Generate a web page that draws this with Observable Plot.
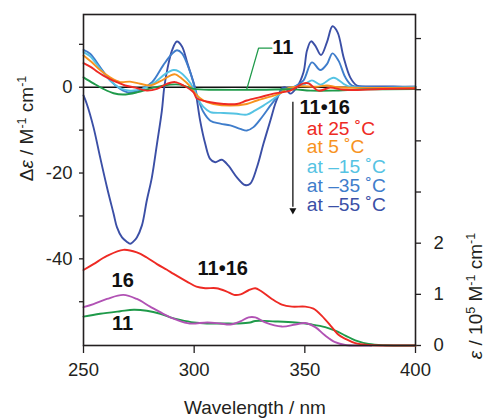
<!DOCTYPE html>
<html><head><meta charset="utf-8">
<script src="https://cdn.jsdelivr.net/npm/d3@7"></script>
<script src="https://cdn.jsdelivr.net/npm/@observablehq/plot@0.6"></script>
<style>body{margin:0;background:#fff}</style>
</head><body><div id="chart"></div>
<script>
// ---- CD spectra (Δε, left axis) : [wavelength nm, Δε] ----
const cdM55 = [[250,-1.9],[251.5,-3.9],[254.5,-9.3],[257.5,-16.3],[260.6,-23.3],[263.6,-29.5],[265.1,-32.6],[267.4,-35.0],[269.5,-36.0],[271.1,-36.5],[272.5,-36.0],[274.1,-35],[276.4,-32.2],[278.6,-26.4],[280.9,-21.0],[283.2,-13.2],[285.4,-5.5],[286.5,0],[288,4.5],[290,8.6],[292.2,10.65],[294.5,9.5],[297,5.5],[299,2.3],[300.3,0],[302.7,-7.8],[305,-13.2],[307.2,-16.7],[309.5,-17.5],[312.5,-16.9],[315.5,-18.3],[319.3,-21],[323,-22.8],[325.3,-22.5],[328.4,-18.6],[331.3,-13.2],[334.4,-7.8],[336.6,-3.9],[338.1,-1.9],[339.5,-0.3],[341,0],[343.4,-1.5],[346.4,0],[349.4,3.5],[351,8.6],[352.8,10.7],[354.7,9.7],[357.3,7.5],[360,10.5],[362.5,14.2],[364.8,12.8],[367.5,7.0],[370.5,2.3],[373.5,0.4],[378,0.2],[390,0.2],[400,0.1]];
const cdM35 = [[250,8.7],[253,7.8],[257.5,4.7],[262,1.6],[266.6,-0.4],[270.3,-1.2],[275.6,-0.6],[281,1.2],[286,5.1],[290,7.8],[292.2,8.6],[294.5,7.9],[298.2,3.5],[300.5,-0.5],[302,-3],[304.2,-5.8],[307.3,-7.8],[311.8,-8.5],[316.3,-8.9],[320.8,-9.7],[323.8,-10.1],[326.8,-9.3],[330.6,-7],[334.4,-4.3],[337.4,-2.3],[340,-0.5],[343,-0.3],[346,0.3],[349.4,1.6],[353.2,5.8],[357,4.0],[360,5.4],[362.5,7.9],[365.2,6.2],[368.3,2.3],[371.3,0.4],[376,0.1],[400,0.1]];
const cdM15 = [[250,8.2],[253,7.2],[257.5,4.3],[262,1.6],[266.6,-0.2],[271,-0.8],[276.4,-0.4],[281.6,0.9],[287,3.1],[290.7,4.0],[293,3.7],[296.7,2.0],[300,-0.5],[301.5,-2.5],[304.2,-4.6],[307.3,-5.8],[313.3,-6.0],[319.3,-6.2],[323.8,-6.4],[327.6,-5.4],[331.3,-4.3],[335.9,-2.7],[338.1,-1.9],[341,-0.5],[345,0],[350.2,0.8],[353.2,1.6],[357,0.6],[363,2.2],[367.5,0.8],[370.5,0.1],[400,0]];
const cdP5 = [[250,7.4],[253.8,5.8],[257.5,4.0],[262,2.3],[266.6,1.2],[271,1.3],[275.6,0.8],[280.1,0.4],[284.7,1.4],[289.2,2.7],[291.4,3.0],[294.5,2.0],[298.2,0.2],[300.5,-1.5],[304.2,-3.1],[308.7,-3.9],[316.3,-4.3],[323.8,-3.9],[328.4,-3.1],[334.4,-2.2],[338.9,-1.4],[342,-0.3],[348,0.2],[355,0.1],[360,0.4],[365,0],[400,-0.1]];
const cdP25 = [[250,5.6],[253,4.8],[256,3.7],[259,2.7],[262,1.9],[265,1.2],[268.8,0.4],[273.4,-0.1],[278.6,-0.8],[283.2,-0.4],[287.7,0.8],[291.4,1.2],[295.2,0.4],[299.7,-1.2],[301.2,-2.6],[307.3,-3.5],[313.3,-3.9],[319.3,-3.9],[323.8,-3.1],[329.8,-2.3],[335.9,-1.5],[343.4,-0.8],[349.4,0.9],[351.7,0.9],[356.2,-0.8],[361.5,-0.1],[367.5,-0.6],[385,-0.4],[400,-0.3]];
const cd11 = [[250,2.3],[254.5,0.9],[259,-0.4],[263.6,-1.4],[268,-1.7],[274.1,-1.2],[281.6,-0.1],[289.2,0.6],[293.7,0.6],[299.7,-0.4],[310,-0.6],[330,-0.6],[345,-0.5],[352.5,-0.8],[362.5,-0.8],[377,-0.5],[400,-0.4]];

// ---- UV spectra (ε / 10^5, right axis) : [wavelength nm, ε] ----
const uv1116 = [[250,1.475],[254.5,1.59],[260.6,1.75],[268,1.87],[274.1,1.82],[278.6,1.72],[283.2,1.59],[287.7,1.48],[290.7,1.40],[296.7,1.25],[301,1.15],[305,1.12],[310,1.12],[314.5,1.06],[318,0.99],[321,1.0],[324.6,1.08],[327.6,1.12],[330,1.07],[335.1,0.91],[339.6,0.80],[344.2,0.76],[350.2,0.76],[353.9,0.72],[357.7,0.58],[362.2,0.36],[365.2,0.21],[368.3,0.13],[372.8,0.045],[378.8,0.01],[390,0],[400,0]];
const uv16 = [[250,0.75],[254.5,0.81],[260.6,0.91],[268,0.99],[274.1,0.91],[280.1,0.76],[286,0.62],[292.2,0.50],[298,0.43],[306,0.45],[311.8,0.43],[316.3,0.41],[320.8,0.47],[324.6,0.55],[327.6,0.55],[332.1,0.45],[339.6,0.37],[345.7,0.41],[350.2,0.44],[354.7,0.36],[359.2,0.195],[363.7,0.065],[368.3,0.01],[375,0],[380,0]];
const uv11 = [[250,0.565],[257.5,0.62],[266.6,0.67],[272.7,0.70],[278.6,0.68],[284.7,0.62],[289.2,0.55],[293.7,0.50],[299.7,0.45],[305.8,0.43],[313.3,0.43],[320,0.43],[325.3,0.45],[327.6,0.48],[336.6,0.47],[345.7,0.45],[353.2,0.41],[359.2,0.36],[363.7,0.29],[368.3,0.195],[372.8,0.10],[378.8,0.03],[386.3,0.005],[400,0]];

// ---- axes ----
const xTicks = [250, 300, 350, 400];
const leftTicks = [10, 0, -10, -20, -30, -40, -50];
const leftLabels = [0, -20, -40];
const rightTicks = [0, 1, 2, 3, 4, 5, 6];
const rightLabels = [0, 1, 2];
const yDomain = [-60.2, 16.95];
const rightTop = 6.47;

// ---- annotations ----
const legendText = ["at 25 ˚C", "at 5 ˚C", "at –15 ˚C", "at –35 ˚C", "at –55 ˚C"];
const legendColor = ["#ee2a24", "#f7931e", "#55c3e3", "#3f7dcb", "#3b4fa6"];
const legendY = [-9.7, -14.0, -18.5, -22.9, -27.3];
const legendX = 350.9;
const labelsStart = [
  {t: "11", x: 335.3, y: 9.14},
  {t: "11•16", x: 347.6, y: -4.66}
];
const labelsMiddle = [
  {t: "16", x: 267.7, y: -45.0},
  {t: "11•16", x: 312.9, y: -42.3},
  {t: "11", x: 267.7, y: -55.2}
];
const leader = [[335.1, 9.1], [329.1, 9.1], [323.8, -0.4]];
const arrowX = 344.6, arrowY1 = -3.5, arrowY2 = -28.0, arrowTipY = -28.7;

const k = (yDomain[1] - yDomain[0]) / rightTop;
const uv = e => yDomain[0] + e * k;
const toUV = arr => arr.map(([w, e]) => [w, uv(e)]);

const C = {red: "#ee2a24", orange: "#f7931e", lblue: "#55c3e3", mblue: "#3f7dcb", dblue: "#3b4fa6", green: "#1f9a4a", purple: "#b152b4"};
const line = (data, stroke) => Plot.line(data, {x: d => d[0], y: d => d[1], stroke, strokeWidth: 1.9, curve: "catmull-rom"});
const FONT = "'Liberation Sans', Arial, Helvetica, sans-serif";

const plot = Plot.plot({
  width: 487, height: 418,
  marginLeft: 83, marginRight: 72, marginTop: 14, marginBottom: 73,
  x: {domain: [250, 400]},
  y: {domain: yDomain},
  style: {fontFamily: FONT, fontSize: "18.5px", color: "#231f20", background: "#fff"},
  marks: [
    Plot.axisX({ticks: xTicks, tickSize: 8, tickPadding: 9, label: null, fontSize: 18.5, strokeWidth: 1.3}),
    Plot.axisY({ticks: leftTicks, tickFormat: d => leftLabels.includes(d) ? String(d) : "", tickSize: 4, tickPadding: 7, label: null, fontSize: 18.5, strokeWidth: 1.3}),
    Plot.axisY({anchor: "right", ticks: rightTicks.map(uv), tickFormat: d => { const v = Math.round((d - yDomain[0]) / k); return rightLabels.includes(v) ? String(v) : ""; }, tickSize: 5, tickPadding: 13, label: null, fontSize: 18.5, strokeWidth: 1.3}),
    Plot.ruleY([0], {stroke: "#111", strokeWidth: 1.6}),
    line(cdM55, C.dblue),
    line(cdM35, C.mblue),
    line(cdM15, C.lblue),
    line(cdP5, C.orange),
    line(cd11, C.green),
    line(cdP25, C.red),
    line(toUV(uv11), C.green),
    line(toUV(uv16), C.purple),
    line(toUV(uv1116), C.red),
    Plot.line(leader, {x: d => d[0], y: d => d[1], stroke: C.green, strokeWidth: 1.3}),
    Plot.ruleX([arrowX], {y1: arrowY1, y2: arrowY2, stroke: "#111", strokeWidth: 1.3}),
    Plot.dot([arrowX], {x: d => d, y: arrowTipY, symbol: "triangle", rotate: 180, r: 2.6, fill: "#111", stroke: null}),
    Plot.text(legendText, {x: legendX, y: (d, i) => legendY[i], text: d => d, fill: (d, i) => legendColor[i], textAnchor: "start", fontSize: 19.2}),
    Plot.text(labelsStart, {x: "x", y: "y", text: "t", textAnchor: "start", fontSize: 20, fontWeight: "bold", fill: "#111"}),
    Plot.text(labelsMiddle, {x: "x", y: "y", text: "t", textAnchor: "middle", fontSize: 20, fontWeight: "bold", fill: "#111"}),
    Plot.frame({stroke: "#231f20", strokeWidth: 1.6})
  ]
});
document.getElementById("chart").append(plot);

const svg = d3.select(plot);
function addLabel(x, y, rot, parts) {
  const t = svg.append("text")
    .attr("transform", `translate(${x},${y}) rotate(${rot})`)
    .attr("text-anchor", "middle")
    .attr("font-family", FONT)
    .attr("font-size", 19).attr("fill", "#231f20");
  let prevSup = false;
  for (const p of parts) {
    const ts = t.append("tspan").text(p.t);
    if (p.italic) ts.attr("font-style", "italic");
    if (p.sup) { ts.attr("font-size", 12.5).attr("dy", prevSup ? 0 : -7.5); prevSup = true; }
    else { if (prevSup) ts.attr("dy", 7.5); prevSup = false; }
  }
}
addLabel(255, 414, 0, [{t: "Wavelength / nm"}]);
addLabel(33, 128.5, -90, [{t: "Δ"}, {t: "ε", italic: true}, {t: " / M"}, {t: "-1", sup: true}, {t: " cm"}, {t: "-1", sup: true}]);
addLabel(482, 296, -90, [{t: "ε", italic: true}, {t: " / 10"}, {t: "5", sup: true}, {t: " M"}, {t: "-1", sup: true}, {t: " cm"}, {t: "-1", sup: true}]);
</script></body></html>
